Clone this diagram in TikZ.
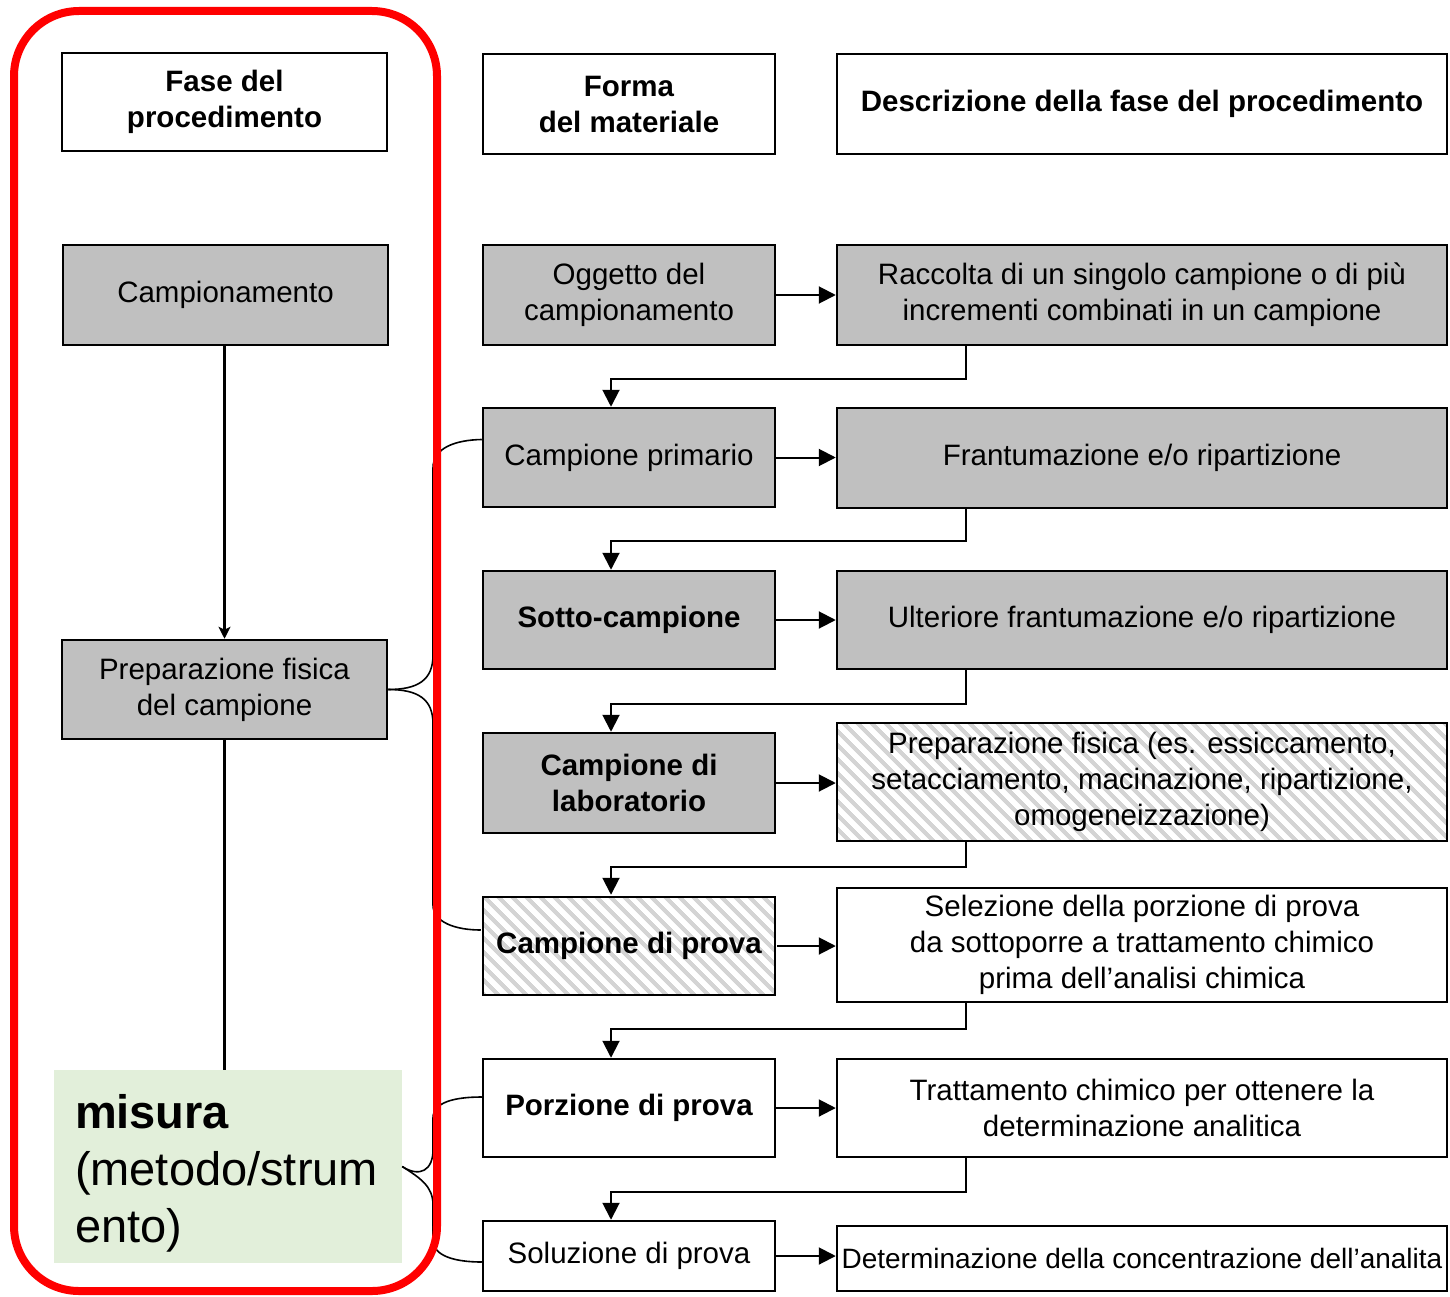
\documentclass[tikz,border=0pt]{standalone}
\usepackage{fontspec}
\setmainfont{Liberation Sans}
\usetikzlibrary{arrows.meta,patterns.meta,calc}
\definecolor{boxgray}{RGB}{192,192,192}
\definecolor{mgreen}{RGB}{226,239,218}
\definecolor{hatchgray}{RGB}{212,212,212}
\definecolor{framered}{RGB}{255,0,0}
\begin{document}
\begin{tikzpicture}[x=1pt,y=-1pt,
  base/.style={draw=black,line width=2.5pt,inner sep=0pt,align=center,
    font=\fontsize{29.5}{36}\selectfont},
  wbox/.style={base,fill=white},
  gbox/.style={base,fill=boxgray},
  hbox/.style={base,pattern={Lines[angle=-45,distance=10.5pt,line width=4.5pt]},pattern color=hatchgray},
  bf/.style={font=\fontsize{29.5}{36}\selectfont\bfseries},
  lw/.style={minimum width=325},
  mw/.style={minimum width=292},
  rw/.style={minimum width=610},
  conn/.style={line width=2pt,-{Triangle[length=17pt,width=17pt]}},
  sconn/.style={line width=2.5pt,-{Stealth[length=12pt,width=12pt,inset=3pt]}},
  plain/.style={line width=2.5pt},
  brace/.style={line width=1.6pt}
]
\useasboundingbox (0,0) rectangle (1450,1297);

% left column
\node[wbox,bf,lw,minimum height=98] (l0) at (224.5,102) {Fase del\\procedimento};
\node[gbox,lw,minimum height=100] (l1) at (225.5,295) {Campionamento};
\node[gbox,lw,minimum height=99] (l2) at (224.5,689.5) {Preparazione fisica\\del campione};
\node[fill=mgreen,minimum width=348,minimum height=193,text width=306,
  inner xsep=21,inner ysep=0,align=left,
  font=\fontsize{47}{57}\selectfont] (mis) at (228,1166.5)
  {\rule{0pt}{48pt}\textbf{misura}\\(metodo/strum\\ento)};

% middle column
\node[wbox,bf,mw,minimum height=100] (m0) at (629,104) {Forma\\del materiale};
\node[gbox,mw,minimum height=100] (m1) at (629,295) {Oggetto del\\campionamento};
\node[gbox,mw,minimum height=99] (m2) at (629,457.5) {Campione primario};
\node[gbox,bf,mw,minimum height=98] (m3) at (629,620) {Sotto-campione};
\node[gbox,bf,mw,minimum height=100] (m4) at (629,783) {Campione di\\laboratorio};
\node[hbox,bf,mw,minimum height=98] (m5) at (629,946) {Campione di prova};
\node[wbox,bf,mw,minimum height=98] (m6) at (629,1108) {Porzione di prova};
\node[wbox,mw,minimum height=70] (m7) at (629,1256) {Soluzione di prova};

% right column
\node[wbox,bf,rw,minimum height=100] (r0) at (1142,104) {Descrizione della fase del procedimento};
\node[gbox,rw,minimum height=100] (r1) at (1142,295) {Raccolta di un singolo campione o di più\\incrementi combinati in un campione};
\node[gbox,rw,minimum height=100] (r2) at (1142,458) {Frantumazione e/o ripartizione};
\node[gbox,rw,minimum height=98] (r3) at (1142,620) {Ulteriore frantumazione e/o ripartizione};
\node[hbox,rw,minimum height=118] (r4) at (1142,782) {Preparazione fisica (es. essiccamento,\\setacciamento, macinazione, ripartizione,\\omogeneizzazione)};
\node[wbox,rw,minimum height=114] (r5) at (1142,945) {Selezione della porzione di prova\\da sottoporre a trattamento chimico\\prima dell’analisi chimica};
\node[wbox,rw,minimum height=98] (r6) at (1142,1108) {Trattamento chimico per ottenere la\\determinazione analitica};
\node[wbox,rw,minimum height=65,font=\fontsize{28}{34}\selectfont] (r7) at (1142,1258.5) {Determinazione della concentrazione dell’analita};

% helper coordinates
\coordinate (xr) at (966,0);
\coordinate (xm) at (611,0);

% horizontal arrows
\foreach \i in {1,...,7}{
  \draw[conn] (m\i.east) -- (m\i.east -| r\i.west);
}

% return connectors
\draw[conn] (r1.south -| xr) -- ++(0,33) -| (m2.north -| xm);
\draw[conn] (r2.south -| xr) -- ++(0,32) -| (m3.north -| xm);
\draw[conn] (r3.south -| xr) -- ++(0,34) -| (m4.north -| xm);
\draw[conn] (r4.south -| xr) -- ++(0,25) -| (m5.north -| xm);
\draw[conn] (r5.south -| xr) -- ++(0,26) -| (m6.north -| xm);
\draw[conn] (r6.south -| xr) -- ++(0,34) -| (m7.north -| xm);

% left column connectors
\draw[sconn] (l1.south -| l2.north) -- (l2.north);
\draw[plain] (l2.south) -- (mis.north -| l2.south);

% braces
\draw[brace] (l2.east) .. controls (418,689.5) and (433,680) .. (433,655)
  -- (433,468) .. controls (433,448) and (455,440) .. ($(m2.west)+(0,-18)$);
\draw[brace] (l2.east) .. controls (418,689.5) and (433,699) .. (433,724)
  -- (433,905) .. controls (433,922) and (455,930) .. ($(m5.west)+(0,-16)$);
\draw[brace] (mis.east) .. controls (420,1178) and (433,1170) .. (433,1150)
  -- (433,1118) .. controls (433,1102) and (455,1097) .. ($(m6.west)+(0,-11)$);
\draw[brace] (mis.east) .. controls (420,1178) and (433,1186) .. (433,1205)
  -- (433,1240) .. controls (433,1256) and (455,1262) .. ($(m7.west)+(0,6)$);

% red frame
\draw[framered,line width=8pt,rounded corners=65pt] (14,11) rectangle (437,1291);
\end{tikzpicture}
\end{document}
